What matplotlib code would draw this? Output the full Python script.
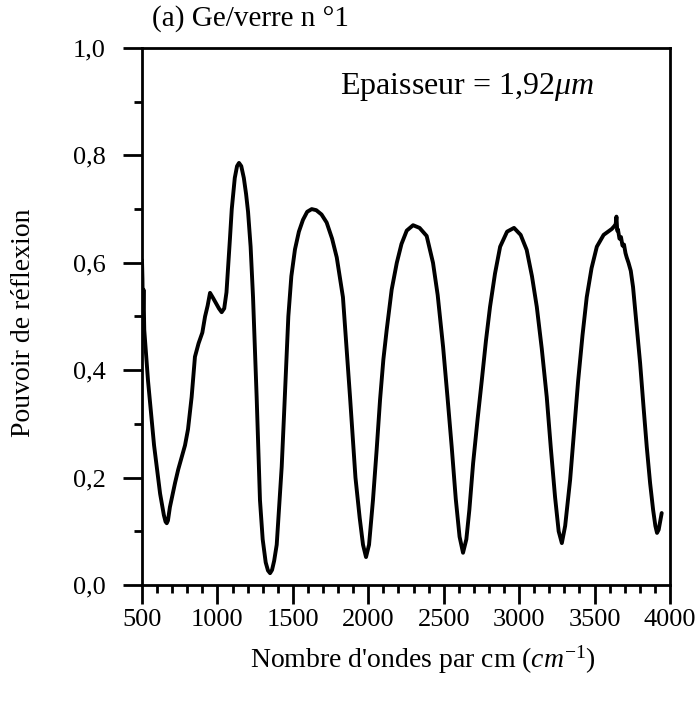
import numpy as np
import matplotlib
matplotlib.use("Agg")
import matplotlib.pyplot as plt
from matplotlib.ticker import MultipleLocator, FuncFormatter

# wavenumber (cm-1) and reflectance
wavenumber = [500, 503, 506, 510, 515, 540, 580, 620, 645, 656, 664, 672, 685,
              700, 719, 740, 765, 785, 805, 829, 851, 875, 900, 918, 935, 951,
              970, 990, 1010, 1028, 1045, 1060, 1073, 1083, 1095, 1115, 1130,
              1143, 1158, 1175, 1190, 1203, 1220, 1236, 1260, 1282, 1300, 1320,
              1335, 1349, 1362, 1376, 1393, 1410, 1426, 1442, 1470, 1490, 1514,
              1540, 1567, 1595, 1625, 1655, 1690, 1724, 1760, 1791, 1832, 1879,
              1915, 1943, 1965, 1985, 2005, 2031, 2055, 2078, 2100, 2122, 2155,
              2189, 2220, 2255, 2297, 2340, 2387, 2429, 2460, 2496, 2525, 2553,
              2580, 2605, 2628, 2650, 2670, 2695, 2725, 2752, 2780, 2807, 2840,
              2874, 2920, 2966, 3010, 3050, 3085, 3117, 3150, 3183, 3210, 3238,
              3262, 3283, 3305, 3338, 3365, 3391, 3420, 3448, 3480, 3515, 3560,
              3600, 3614, 3630, 3640, 3645, 3650, 3655, 3665, 3675, 3685, 3695,
              3705, 3713, 3725, 3740, 3755, 3770, 3802, 3825, 3846, 3868, 3888,
              3903, 3914, 3925, 3935, 3945]
reflexion = [0.605, 0.57, 0.50, 0.55, 0.475, 0.38, 0.26, 0.17, 0.13, 0.118,
             0.115, 0.12, 0.145, 0.165, 0.19, 0.215, 0.24, 0.26, 0.29, 0.35,
             0.425, 0.45, 0.47, 0.50, 0.52, 0.544, 0.535, 0.525, 0.515, 0.508,
             0.515, 0.545, 0.60, 0.645, 0.70, 0.758, 0.78, 0.786, 0.78, 0.758,
             0.728, 0.695, 0.63, 0.536, 0.35, 0.158, 0.085, 0.042, 0.027, 0.022,
             0.028, 0.045, 0.075, 0.15, 0.22, 0.32, 0.50, 0.575, 0.625, 0.658,
             0.68, 0.695, 0.700, 0.698, 0.69, 0.675, 0.645, 0.61, 0.536, 0.35,
             0.20, 0.125, 0.075, 0.052, 0.075, 0.158, 0.25, 0.345, 0.42, 0.475,
             0.55, 0.60, 0.635, 0.66, 0.67, 0.665, 0.65, 0.60, 0.54, 0.443,
             0.35, 0.257, 0.16, 0.09, 0.06, 0.085, 0.14, 0.227, 0.31, 0.38,
             0.455, 0.518, 0.58, 0.63, 0.658, 0.665, 0.652, 0.624, 0.575, 0.518,
             0.44, 0.35, 0.255, 0.164, 0.10, 0.078, 0.11, 0.196, 0.29, 0.38,
             0.465, 0.536, 0.59, 0.63, 0.652, 0.66, 0.663, 0.668, 0.672, 0.686,
             0.66, 0.662, 0.645, 0.648, 0.632, 0.634, 0.618, 0.61, 0.60, 0.585,
             0.555, 0.51, 0.413, 0.33, 0.257, 0.19, 0.14, 0.11, 0.097, 0.103,
             0.118, 0.134]

plt.rcParams['font.family'] = ['Liberation Serif', 'DejaVu Serif']
plt.rcParams['mathtext.fontset'] = 'custom'
plt.rcParams['mathtext.it'] = 'Liberation Serif:italic'
plt.rcParams['mathtext.rm'] = 'Liberation Serif'

fig = plt.figure(figsize=(7, 7.06), dpi=100)
ax = fig.add_axes([142/700, 1 - 585/706, 528/700, 537/706])

ax.plot(wavenumber, reflexion, color='black', lw=2.8,
        solid_joinstyle='round', solid_capstyle='round')

ax.set_xlim(500, 4000)
ax.set_ylim(0, 1.0)
ax.xaxis.set_major_locator(MultipleLocator(500))
ax.xaxis.set_minor_locator(MultipleLocator(100))
ax.yaxis.set_major_locator(MultipleLocator(0.2))
ax.yaxis.set_minor_locator(MultipleLocator(0.1))
ax.yaxis.set_major_formatter(FuncFormatter(lambda v, p: f"{v:.1f}".replace('.', ',')))

ax.tick_params(which='major', direction='out', length=14, width=2, labelsize=19)
ax.tick_params(axis='x', which='major', pad=3)
ax.tick_params(axis='y', which='major', pad=12)
ax.tick_params(which='minor', direction='out', length=6, width=2)
for s in ax.spines.values():
    s.set_linewidth(2)

# axis titles placed where they sit in the scan
fig.text(24/700, 1 - 323/706, "Pouvoir de réflexion", fontsize=20,
         rotation=90, ha='center', va='center')
fig.text(423/700, 1 - 660/706, r"Nombre d'ondes par cm ($cm^{-1}$)",
         fontsize=20, ha='center', va='center')

fig.text(152/700, 1 - 19/706, "(a) Ge/verre n °1", fontsize=21, va='center', ha='left')
fig.text(340/700, 1 - 87/706, r"Epaisseur = 1,92$\mu m$", fontsize=23,
         va='center', ha='left')

fig.savefig("out.png", dpi=100)
